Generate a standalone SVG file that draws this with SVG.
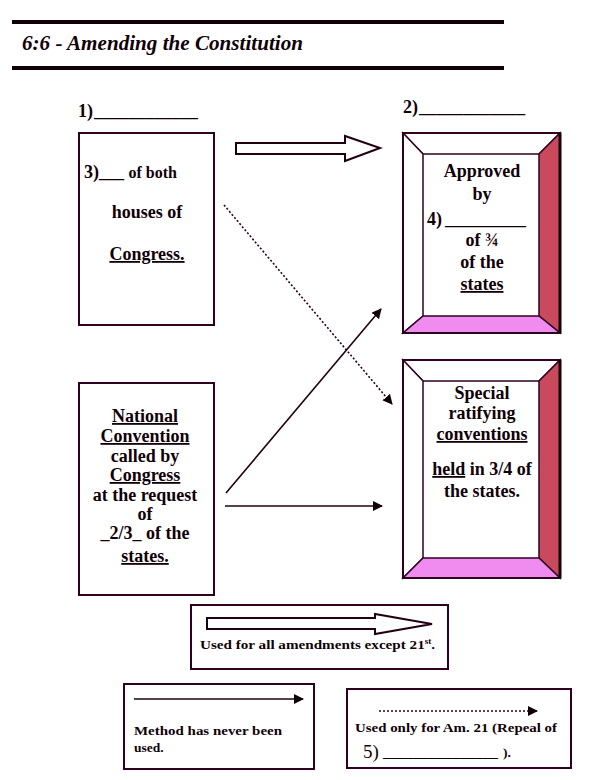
<svg xmlns="http://www.w3.org/2000/svg" width="607" height="780" viewBox="0 0 607 780" font-family="'Liberation Serif', 'DejaVu Serif', serif">
<defs>
<marker id="ah" viewBox="0 0 10 10" refX="9" refY="5" markerWidth="10" markerHeight="10" markerUnits="userSpaceOnUse" orient="auto"><path d="M0,0 L10,5 L0,10 Z" fill="#100008"/></marker>
</defs>
<style>
text{font-family:'Liberation Serif','DejaVu Serif',serif;font-weight:bold;fill:#100008}
.t{font-size:18px}
.c{text-anchor:middle}
.s{font-size:13.5px}
.u{text-decoration:underline}
.box{fill:none;stroke:#300020;stroke-width:2}
.bev{stroke:#300020;stroke-width:1.5}
.dk{fill:#c84a5c}
.pk{fill:#f08cf0}
.ln{fill:none;stroke:#200010;stroke-width:1.6}
.dot{fill:none;stroke:#300020;stroke-width:1.6;stroke-dasharray:2 2}
.hol{fill:#fff;stroke:#200010;stroke-width:2}
</style>
<g id="header">
<rect x="12" y="20" width="492" height="4" fill="#100008"/>
<text x="22" y="50" style="font-size:22px;font-style:italic" textLength="281" lengthAdjust="spacingAndGlyphs">6:6 - Amending the Constitution</text>
<rect x="12" y="66" width="492" height="4" fill="#100008"/>
</g>
<g id="label1">
<text class="t" x="78" y="117">1)</text>
<text class="t" x="94" y="117" textLength="104" lengthAdjust="spacingAndGlyphs">____________</text>
</g>
<g id="label2">
<text class="t" x="403" y="113">2)</text>
<text class="t" x="419" y="113" textLength="106" lengthAdjust="spacingAndGlyphs">____________</text>
</g>
<g id="congress">
<rect class="box" x="79" y="133" width="135" height="192"/>
<text class="t" x="84" y="178">3)<tspan textLength="25" lengthAdjust="spacingAndGlyphs">__</tspan> <tspan font-size="16px">of both</tspan></text>
<text class="t c" x="147" y="218">houses of</text>
<text class="t c u" x="147" y="260">Congress.</text>
</g>
<g id="convention">
<rect class="box" x="79" y="383" width="135" height="212"/>
<text class="t c u" x="145" y="422">National</text>
<text class="t c u" x="145" y="442">Convention</text>
<text class="t c" x="145" y="462">called by</text>
<text class="t c u" x="145" y="481">Congress</text>
<text class="t c" x="145" y="501">at the request</text>
<text class="t c" x="145" y="520">of</text>
<text class="t c" x="145" y="539">_2/3_ of the</text>
<text class="t c u" x="145" y="562">states.</text>
</g>
<g id="legislatures">
<polygon points="403,133 560,133 539,154 423,154" fill="#fff" class="bev"/>
<polygon points="403,133 423,154 423,316 403,333" fill="#fff" class="bev"/>
<polygon points="560,133 560,333 539,316 539,154" class="bev dk"/>
<polygon points="403,333 560,333 539,316 423,316" class="bev pk"/>
<rect class="box" x="403" y="133" width="157" height="200"/>
<line x1="560" y1="133" x2="560" y2="333" stroke="#100008" stroke-width="3"/>
<text class="t c" x="482" y="177">Approved</text>
<text class="t c" x="482" y="200">by</text>
<text class="t" x="427" y="225">4)</text>
<text class="t" x="445" y="225" textLength="81" lengthAdjust="spacingAndGlyphs">_________</text>
<text class="t c" x="482" y="246">of ¾</text>
<text class="t c" x="482" y="268">of the</text>
<text class="t c u" x="482" y="290">states</text>
</g>
<g id="ratifying">
<polygon points="403,360 560,360 539,381 423,381" fill="#fff" class="bev"/>
<polygon points="403,360 423,381 423,558 403,578" fill="#fff" class="bev"/>
<polygon points="560,360 560,578 539,558 539,381" class="bev dk"/>
<polygon points="403,578 560,578 539,558 423,558" class="bev pk"/>
<rect class="box" x="403" y="360" width="157" height="218"/>
<line x1="560" y1="360" x2="560" y2="578" stroke="#100008" stroke-width="3"/>
<text class="t c" x="482" y="399">Special</text>
<text class="t c" x="482" y="419">ratifying</text>
<text class="t c u" x="482" y="440">conventions</text>
<text class="t c" x="482" y="475"><tspan class="u">held</tspan> in 3/4 of</text>
<text class="t c" x="482" y="497">the states.</text>
</g>
<g id="connectors">
<polygon class="hol" points="236,143 345,143 345,136 380,148 345,161 345,154 236,154"/>
<line class="dot" x1="224" y1="205" x2="392" y2="404" marker-end="url(#ah)"/>
<line class="ln" x1="226" y1="493" x2="381" y2="309" marker-end="url(#ah)"/>
<line class="ln" x1="225" y1="506" x2="382" y2="506" marker-end="url(#ah)"/>
</g>
<g id="legend1">
<rect class="box" x="191" y="605" width="257" height="64"/>
<polygon class="hol" points="207,618 375,618 375,614 432,624 375,634 375,629 207,629"/>
<text class="s" x="200" y="649" textLength="235" lengthAdjust="spacingAndGlyphs">Used for all amendments except 21<tspan font-size="8px" dy="-5">st</tspan><tspan dy="5">.</tspan></text>
</g>
<g id="legend2">
<rect class="box" x="124" y="684" width="190" height="85"/>
<line class="ln" x1="134" y1="699" x2="303" y2="699" marker-end="url(#ah)"/>
<text class="s" x="134" y="735" textLength="148" lengthAdjust="spacingAndGlyphs">Method has never been</text>
<text class="s" x="134" y="752">used.</text>
</g>
<g id="legend3">
<rect class="box" x="347" y="689" width="224" height="79"/>
<line class="dot" x1="379" y1="711" x2="537" y2="711" marker-end="url(#ah)"/>
<text class="s" x="355" y="732" textLength="202" lengthAdjust="spacingAndGlyphs">Used only for Am. 21 (Repeal of</text>
<text x="363" y="758" style="font-size:19px;font-weight:normal">5)</text>
<text class="s" x="383" y="757" textLength="115" lengthAdjust="spacingAndGlyphs">_______________</text>
<text class="s" x="503" y="757">).</text>
</g>
</svg>
